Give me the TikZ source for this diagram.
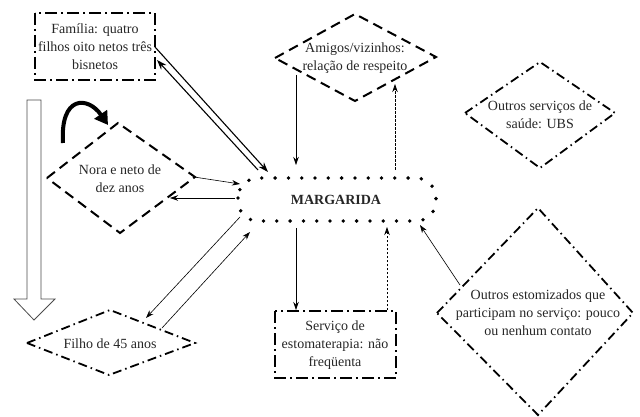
\documentclass[tikz,border=0pt]{standalone}
\usepackage{fontspec}
\setmainfont{Liberation Serif}
\usetikzlibrary{arrows.meta}
\begin{document}
\begin{tikzpicture}[x=1pt,y=-1pt,
  lbl/.style={align=center,font=\fontsize{14}{18}\selectfont,text=black!85,inner sep=0pt},
  dashdotbox/.style={line width=2pt,dash pattern=on 12pt off 4pt on 2pt off 4pt},
  dashdotthin/.style={line width=1.8pt,dash pattern=on 9pt off 4pt on 1.5pt off 4pt},
  dashedbox/.style={line width=2pt,dash pattern=on 10pt off 6pt},
  dotbox/.style={line width=3.8pt,dash pattern=on 0pt off 13.3pt,line cap=round},
  conn/.style={line width=0.6pt,-{Stealth[length=8pt,width=5.5pt]}},
  connthick/.style={line width=1.1pt,-{Stealth[length=10pt,width=7pt]}},
  dconn/.style={line width=0.7pt,dash pattern=on 2.5pt off 1.5pt,-{Stealth[length=8pt,width=5.5pt]}}]
\useasboundingbox (0,0) rectangle (640,417);

% Familia box
\draw[dashdotbox] (35,13) rectangle (155,80);
\node[lbl] (fam) at (95,47) {Família: quatro\\filhos oito netos três\\bisnetos};

% Amigos diamond
\draw[dashedbox] (275,58) -- (355,14) -- (436,57) -- (355,101) -- cycle;
\node[lbl] (ami) at (355,58) {Amigos/vizinhos:\\relação de respeito};

% Outros servicos diamond
\draw[dashdotthin] (465,113) -- (540,62) -- (615,113) -- (540,168) -- cycle;
\node[lbl] (ous) at (540,115) {Outros serviços de\\saúde: UBS};

% Nora diamond
\draw[dashedbox] (47,178) -- (118,123) -- (195,177) -- (120,233) -- cycle;
\node[lbl] (nora) at (120,179) {Nora e neto de\\dez anos};

% Filho diamond
\draw[dashdotthin] (27,343) -- (110,310) -- (195,343) -- (109,375) -- cycle;
\node[lbl] (filho) at (110,344) {Filho de 45 anos};

% Margarida
\draw[dotbox,rounded corners=20pt] (238,178) rectangle (436,221);
\node[lbl,font=\fontsize{14}{16}\selectfont\bfseries] (mar) at (336,200) {MARGARIDA};

% Servico box
\draw[dashdotbox] (275,311) rectangle (396,378);
\node[lbl] (serv) at (335,345) {Serviço de\\estomaterapia: não\\freqüenta};

% Outros estomizados diamond
\draw[dashdotthin] (437,313) -- (538,208) -- (633,313) -- (538,415) -- cycle;
\node[lbl] (oest) at (538,313) {Outros estomizados que\\participam no serviço: pouco\\ou nenhum contato};

% hollow arrow
\draw[line width=0.8pt,draw=black!70,fill=white] (27,100) -- (41,100) -- (41,299) -- (55,299) -- (34,320) -- (14,299) -- (27,299) -- cycle;

% curved thick arrow
\coordinate (cs) at (63,143);
\coordinate (ce) at (108,125);
\draw[line width=4pt,-{Triangle[length=13pt,width=15pt]}] (cs) .. controls (60,95) and (88,96) .. (ce);

% connector endpoints
\coordinate (famA) at (155,47);
\coordinate (marA) at (268,172);
\coordinate (marB) at (258,170);
\coordinate (famB) at (157,60);
\coordinate (amiA) at (296,75);
\coordinate (marC) at (296,165);
\coordinate (marD) at (395,170);
\coordinate (amiB) at (395,84);
\coordinate (noraA) at (194,177);
\coordinate (marE) at (240,184);
\coordinate (marF) at (235,198);
\coordinate (noraB) at (170,198);
\coordinate (marG) at (240,217);
\coordinate (filhoA) at (146,318);
\coordinate (filhoB) at (162,328);
\coordinate (marH) at (250,232);
\coordinate (marI) at (296,228);
\coordinate (servA) at (296,310);
\coordinate (servB) at (387,310);
\coordinate (marJ) at (387,227);
\coordinate (oestA) at (460,285);
\coordinate (marK) at (420,225);

\draw[connthick] (famA) -- (marA);
\draw[connthick] (marB) -- (famB);
\draw[conn] (amiA) -- (marC);
\draw[dconn] (marD) -- (amiB);
\draw[conn] (noraA) -- (marE);
\draw[conn] (marF) -- (noraB);
\draw[conn] (marG) -- (filhoA);
\draw[conn] (filhoB) -- (marH);
\draw[conn] (marI) -- (servA);
\draw[dconn] (servB) -- (marJ);
\draw[conn] (oestA) -- (marK);
\end{tikzpicture}
\end{document}
